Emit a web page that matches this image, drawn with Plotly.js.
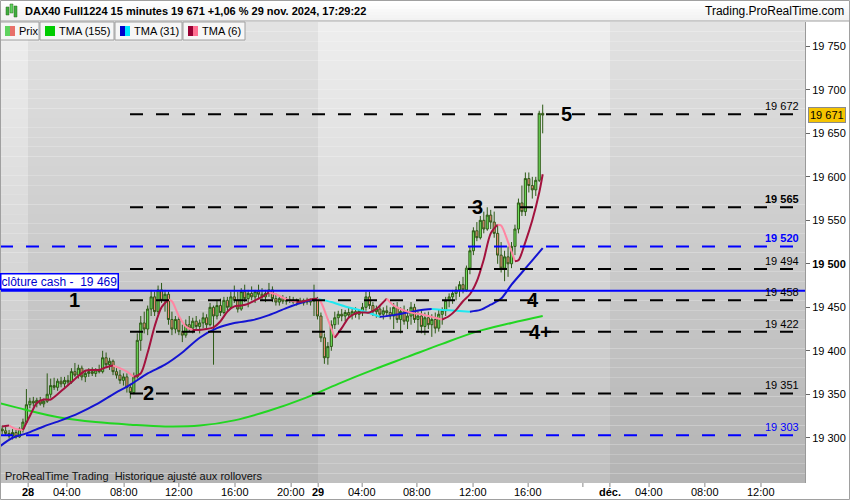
<!DOCTYPE html>
<html><head><meta charset="utf-8">
<script src="https://cdn.plot.ly/plotly-3.0.1.min.js"></script>
<style>html,body{margin:0;padding:0;background:#fff;}#chart{width:850px;height:500px;}</style>
</head><body><div id="chart"></div>
<script>
// ---------------- DATA ----------------
// 15-minute bars: 7 bars of 27 nov., 84 bars of 28 nov., 66 bars of 29 nov.
const firstBarIndex = -7;
const barOpen = [
19310,19308,19305,19302,19306,19301,19310,
19318,19338,19342,19340,19343,19339,19342,19350,19360,19358,19365,19362,19366,19364,19376,19372,19380,19370,19374,19376,
19374,19378,19376,19392,19384,19388,19376,19372,19366,19370,19358,19352,19370,19412,19432,19425,19448,19462,19445,19470,
19458,19465,19436,19425,19436,19422,19418,19430,19426,19434,19428,19432,19438,19430,19450,19440,19452,19444,19458,19450,
19462,19458,19448,19468,19460,19466,19462,19468,19465,19462,19466,19470,19460,19456,19460,19457,19459,19458,19456,19458,
19455,19458,19456,19457,
19458,19440,19415,19392,19405,19430,19438,19442,19440,19444,19441,19445,19442,19446,19450,19462,19452,19445,19448,19442,
19446,19444,19440,19450,19436,19445,19434,19440,19450,19436,19440,19428,19438,19430,19436,19426,19442,19446,19458,19462,
19466,19470,19476,19470,19495,19515,19538,19530,19550,19540,19556,19548,19535,19510,19495,19508,19500,19520,19540,19570,
19560,19598,19590,19585,19596,19673];
const barHigh = [
19314,19313,19309,19310,19309,19312,19322,
19356,19346,19347,19346,19347,19345,19374,19368,19369,19368,19370,19370,19372,19380,19386,19384,19383,19378,19380,19381,
19380,19384,19400,19398,19392,19390,19380,19378,19374,19374,19362,19375,19420,19440,19445,19452,19470,19468,19475,19478,
19470,19468,19445,19440,19440,19430,19436,19440,19438,19440,19436,19444,19442,19455,19452,19458,19460,19462,19462,19468,
19475,19468,19472,19476,19470,19474,19470,19476,19472,19470,19478,19474,19466,19462,19464,19462,19463,19462,19460,19461,
19460,19461,19460,19476,
19462,19444,19420,19410,19435,19445,19446,19448,19447,19450,19448,19450,19448,19455,19468,19468,19456,19452,19452,19450,
19452,19450,19455,19456,19450,19452,19448,19456,19454,19446,19448,19444,19445,19442,19444,19448,19450,19462,19466,19470,
19474,19480,19485,19498,19520,19542,19548,19555,19560,19565,19562,19560,19545,19525,19515,19520,19525,19545,19575,19590,
19605,19605,19600,19600,19676,19683];
const barLow = [
19304,19303,19299,19298,19299,19300,19306,
19316,19334,19336,19335,19337,19335,19340,19346,19355,19354,19358,19358,19360,19362,19370,19368,19366,19364,19370,19371,
19370,19374,19374,19380,19378,19372,19368,19362,19360,19352,19345,19350,19368,19400,19420,19418,19440,19440,19442,19455,
19445,19430,19418,19420,19418,19410,19415,19422,19420,19425,19420,19426,19425,19428,19384,19436,19440,19442,19446,19448,
19455,19444,19446,19456,19450,19458,19455,19460,19458,19456,19462,19456,19452,19452,19454,19453,19455,19454,19452,19454,
19452,19453,19452,19440,
19436,19410,19385,19384,19400,19425,19430,19434,19434,19438,19436,19438,19436,19440,19446,19448,19440,19438,19438,19436,
19440,19436,19425,19432,19420,19430,19425,19430,19432,19422,19420,19418,19425,19416,19420,19422,19430,19440,19450,19454,
19458,19462,19466,19468,19488,19510,19526,19528,19535,19538,19540,19530,19500,19490,19480,19485,19495,19510,19535,19555,
19555,19582,19575,19578,19594,19650];
const barClose = [
19308,19305,19302,19306,19301,19310,19318,
19338,19342,19340,19343,19339,19342,19350,19360,19358,19365,19362,19366,19364,19376,19372,19380,19370,19374,19376,19374,
19378,19376,19392,19384,19388,19376,19372,19366,19370,19358,19352,19370,19412,19432,19425,19448,19462,19445,19470,19458,
19465,19436,19425,19436,19422,19418,19430,19426,19434,19428,19432,19438,19430,19450,19440,19452,19444,19458,19450,19462,
19458,19448,19468,19460,19466,19462,19468,19465,19462,19466,19470,19460,19456,19460,19457,19459,19458,19456,19458,19455,
19458,19456,19457,19458,
19440,19415,19392,19405,19430,19438,19442,19440,19444,19441,19445,19442,19446,19450,19462,19452,19445,19448,19442,19446,
19444,19440,19450,19436,19445,19434,19440,19450,19436,19440,19428,19438,19430,19436,19426,19442,19446,19458,19462,19466,
19470,19476,19470,19495,19515,19538,19530,19550,19540,19556,19548,19535,19510,19495,19508,19500,19520,19540,19570,19560,
19598,19590,19585,19596,19673,19671];

// TMA (155) read at bar positions
const tma155Idx = [-8,0,10,20,30,40,50,60,70,80,90,100,110,120,130,140,149];
const tma155Val = [19340,19332,19323,19318,19315,19313,19314,19320,19331,19345,19362,19378,19393,19408,19422,19432,19440];
// TMA (31)
const tma31Idx = [-8,-4,0,5,10,15,20,25,30,35,40,45,50,55,60,65,70,75,80,84,88,92,96,100,102,106,110,114,117,120,124,128,131,134,137,140,143,146,149];
const tma31Val = [19289,19300,19305,19313,19320,19328,19338,19350,19361,19374,19384,19398,19415,19426,19432,19435,19441,19449,19456,19460,19456,19451,19447,19442,19439,19441,19444,19447,19448,19447,19446,19445,19447,19453,19460,19476,19490,19504,19518];
// TMA (6)
const tma6Idx = [-7,-5,-3,-1,1,3,5,7,9,11,13,15,17,19,21,23,25,27,29,31,33,35,37,39,41,42,44,46,48,50,52,54,56,58,60,62,64,66,68,70,72,74,76,78,80,82,84,85,87,89,91,93,95,97,99,101,103,104,106,108,110,112,114,116,118,120,122,124,126,128,130,132,134,136,137,139,141,142,144,146,148,149];
const tma6Val = [19313,19314,19310,19309,19325,19340,19344,19344,19350,19357,19364,19371,19377,19378,19378,19381,19383,19380,19376,19370,19374,19398,19428,19450,19459,19457,19440,19428,19424,19424,19425,19427,19434,19445,19451,19452,19454,19458,19462,19467,19465,19461,19458,19456,19457,19459,19460,19456,19436,19415,19426,19438,19443,19444,19444,19448,19456,19460,19452,19448,19445,19443,19442,19440,19438,19436,19440,19447,19457,19465,19480,19505,19535,19545,19544,19525,19503,19504,19525,19550,19582,19603];

// price levels
const blackLevels = [19672, 19565, 19494, 19458, 19422, 19351];
const blackLevelBold = [false, true, false, false, false, false];
const blueDashLevels = [19520, 19303];
const blueDashBold = [true, false];
const cashClose = 19469;
const lastPrice = 19671;
const waveLabels = ["1", "2", "3", "4", "4+", "5"];
const waveLevels = [19458, 19351, 19565, 19458, 19422, 19672];
const wavePx = [74, 148, 477, 533, 540, 566];

// axis ticks
const yTicks = [19300,19350,19400,19450,19500,19550,19600,19650,19700,19750];
const xTickIdx = [0.5, 11.7, 28.2, 44, 60.2, 76.4, 84.2, 96.9, 112.7, 128.9, 144.8, 160.6, 168.4, 179.7, 195.8, 212];
const xTickText = ["<b>28</b>","04:00","08:00","12:00","16:00","20:00","<b>29</b>","04:00","08:00","12:00","16:00","","<b>déc.</b>","04:00","08:00","12:00"];

// ---------------- LAYOUT HELPERS ----------------
const W = 850, H = 500, ML = 0, MR = 45, MT = 22, MB = 17;
const PW = W - ML - MR, PH = H - MT - MB;
const X = px => (px - ML) / PW;
const Y = py => (H - MB - py) / PH;
const FONT = "Liberation Sans, Arial, sans-serif";
const fmt = v => String(v).replace(/(\d{2})(\d{3})$/, "$1 $2");

const barIdx = barClose.map((_, i) => i + firstBarIndex);

const shapes = [];
const annotations = [];

// background day bands with vertical gradient
const bands = [[0, 28, 0], [28, 318, 1], [318, 610, 0], [610, 805, 1]];
const NSTRIP = 48;
bands.forEach(([a, b, dark]) => {
  for (let k = 0; k < NSTRIP; k++) {
    const y0 = MT + k * PH / NSTRIP, y1 = MT + (k + 1) * PH / NSTRIP;
    const t = (k + 0.5) / NSTRIP;
    const g = Math.round(238 - 46 * t - (dark ? 12 : 0));
    shapes.push({type: "rect", xref: "paper", yref: "paper", layer: "below",
      x0: X(a), x1: X(b), y0: Y(y1), y1: Y(y0), line: {width: 0},
      fillcolor: `rgb(${g},${g},${g})`});
  }
});

// header bar
for (let k = 0; k < 7; k++) {
  const g = Math.round(255 - k * 2.2);
  shapes.push({type: "rect", xref: "paper", yref: "paper", x0: X(0), x1: X(850),
    y0: Y(k * 3 + 3), y1: Y(k * 3), line: {width: 0}, fillcolor: `rgb(${g},${g},${g})`});
}
shapes.push({type: "line", xref: "paper", yref: "paper", x0: X(0), x1: X(850), y0: Y(21), y1: Y(21), line: {color: "#a0a0a0", width: 1}});
// header icon
[[6, 9, 7, 15, "#3fae3f"], [10, 13, 4, 13, "#5fd35f"], [14, 17, 6, 17, "#3fae3f"]].forEach(([a, b, c, d, col]) => {
  shapes.push({type: "rect", xref: "paper", yref: "paper", x0: X(a), x1: X(b), y0: Y(d), y1: Y(c), line: {color: "#2e6b1e", width: 0.5}, fillcolor: col});
});
annotations.push({xref: "paper", yref: "paper", x: X(23), y: Y(11), xanchor: "left", yanchor: "middle", showarrow: false,
  text: "<b>DAX40 Full1224 15 minutes 19 671 +1,06 % 29 nov. 2024, 17:29:22</b>", font: {family: FONT, size: 11, color: "#000"}});
annotations.push({xref: "paper", yref: "paper", x: X(846), y: Y(11), xanchor: "right", yanchor: "middle", showarrow: false,
  text: "Trading.ProRealTime.com", font: {family: FONT, size: 12, color: "#000"}});

// legend boxes
const legendBoxes = [[0, 39, "Prix", ["#5fd35f", "#e8706a"]], [40, 114, "TMA (155)", ["#00cc00", "#00cc00"]],
  [115, 182, "TMA (31)", ["#0000cc", "#00e5ff"]], [183, 245, "TMA (6)", ["#990033", "#ff6f91"]]];
legendBoxes.forEach(([a, b, txt, cols]) => {
  shapes.push({type: "rect", xref: "paper", yref: "paper", x0: X(a), x1: X(b), y0: Y(40), y1: Y(22),
    line: {color: "#a0a0a0", width: 1}, fillcolor: "#f6f6f6"});
  shapes.push({type: "rect", xref: "paper", yref: "paper", x0: X(a + 5), x1: X(a + 10), y0: Y(36), y1: Y(26), line: {width: 0}, fillcolor: cols[0]});
  shapes.push({type: "rect", xref: "paper", yref: "paper", x0: X(a + 10), x1: X(a + 15), y0: Y(36), y1: Y(26), line: {width: 0}, fillcolor: cols[1]});
  annotations.push({xref: "paper", yref: "paper", x: X(a + 17), y: Y(31), xanchor: "left", yanchor: "middle", showarrow: false,
    text: txt, font: {family: FONT, size: 11, color: "#000"}});
});

// horizontal levels
blackLevels.forEach((v, i) => {
  shapes.push({type: "line", xref: "paper", yref: "y", x0: X(130), x1: X(805), y0: v, y1: v,
    line: {color: "#000", width: 2, dash: "13px,13px"}});
  annotations.push({xref: "paper", yref: "y", x: X(801), y: v, yshift: 8, xanchor: "right", yanchor: "middle", showarrow: false,
    text: blackLevelBold[i] ? "<b>" + fmt(v) + "</b>" : fmt(v), font: {family: FONT, size: 11, color: "#000"}});
});
blueDashLevels.forEach((v, i) => {
  shapes.push({type: "line", xref: "paper", yref: "y", x0: X(0), x1: X(805), y0: v, y1: v,
    line: {color: "#0000ff", width: 2, dash: "13px,13px"}});
  annotations.push({xref: "paper", yref: "y", x: X(801), y: v, yshift: 8, xanchor: "right", yanchor: "middle", showarrow: false,
    text: blueDashBold[i] ? "<b>" + fmt(v) + "</b>" : fmt(v), font: {family: FONT, size: 11, color: "#0000ff"}});
});
shapes.push({type: "line", xref: "paper", yref: "y", x0: X(0), x1: X(805), y0: cashClose, y1: cashClose, line: {color: "#0000ff", width: 2}});
annotations.push({xref: "paper", yref: "y", x: X(0), y: cashClose, yshift: 9, xanchor: "left", yanchor: "middle", showarrow: false,
  text: "clôture cash -  " + fmt(cashClose), bgcolor: "#fff", bordercolor: "#0000ff", borderwidth: 1.5, borderpad: 0,
  font: {family: FONT, size: 12, color: "#0000cc"}});

waveLabels.forEach((t, i) => {
  annotations.push({xref: "paper", yref: "y", x: X(wavePx[i]), y: waveLevels[i], xanchor: "center", yanchor: "middle", showarrow: false,
    text: "<b>" + t + "</b>", font: {family: FONT, size: 20, color: "#000"}});
});

// last price tag
annotations.push({xref: "paper", yref: "y", x: X(808), y: lastPrice, xanchor: "left", yanchor: "middle", showarrow: false,
  text: fmt(lastPrice), bgcolor: "#f5c400", bordercolor: "#8a8a8a", borderwidth: 1, borderpad: 1,
  font: {family: FONT, size: 11, color: "#000"}});

// footer text
annotations.push({xref: "paper", yref: "paper", x: X(3), y: Y(476), xanchor: "left", yanchor: "middle", showarrow: false,
  text: "ProRealTime Trading  Historique ajusté aux rollovers", font: {family: FONT, size: 11, color: "#111"}});

// x tick marks (drawn as short lines below the plot) and tick labels
xTickIdx.forEach((v, i) => {
  shapes.push({type: "line", xref: "x", yref: "paper", x0: v, x1: v, y0: Y(483), y1: Y(487), line: {color: "#888", width: 1}});
  if (xTickText[i]) annotations.push({xref: "x", yref: "paper", x: v, y: Y(492), xanchor: "center", yanchor: "middle", showarrow: false,
    text: xTickText[i], font: {family: FONT, size: 11, color: "#000"}});
});

// outer border
shapes.push({type: "rect", xref: "paper", yref: "paper", x0: X(0.5), x1: X(849.5), y0: Y(499.5), y1: Y(0.5), line: {color: "#a0a0a0", width: 1}});

// ---------------- TRACES ----------------
function slopeTraces(xs, ys, upCol, downCol, width) {
  const out = [];
  let start = 0;
  let cur = ys[1] >= ys[0];
  const push = (s, e, up) => out.push({type: "scatter", mode: "lines", x: xs.slice(s, e + 1), y: ys.slice(s, e + 1),
    line: {color: up ? upCol : downCol, width: width, shape: "spline", smoothing: 0.8}, hoverinfo: "skip"});
  for (let i = 1; i < xs.length - 1; i++) {
    const d = ys[i + 1] >= ys[i];
    if (d !== cur) { push(start, i, cur); start = i; cur = d; }
  }
  push(start, xs.length - 1, cur);
  return out;
}

const traces = [];
traces.push({type: "scatter", mode: "lines", x: tma155Idx, y: tma155Val,
  line: {color: "#22d622", width: 2, shape: "spline", smoothing: 1}, hoverinfo: "skip"});
traces.push(...slopeTraces(tma31Idx, tma31Val, "#1414d2", "#20e8f0", 2));
traces.push({type: "candlestick", x: barIdx, open: barOpen, high: barHigh, low: barLow, close: barClose,
  increasing: {line: {color: "#2d5a16", width: 1}, fillcolor: "#6fe05a"},
  decreasing: {line: {color: "#2d5a16", width: 1}, fillcolor: "#f08a78"},
  whiskerwidth: 0, hoverinfo: "skip"});
traces.push(...slopeTraces(tma6Idx, tma6Val, "#a3123e", "#ff86a2", 2));

const layout = {
  width: W, height: H,
  margin: {l: ML, r: MR, t: MT, b: MB, pad: 0},
  paper_bgcolor: "#ffffff", plot_bgcolor: "rgba(0,0,0,0)",
  showlegend: false,
  boxgap: 0.12,
  font: {family: FONT, size: 11, color: "#000"},
  xaxis: {range: [-7.62, 224.7], showgrid: false, zeroline: false, fixedrange: true,
    rangeslider: {visible: false}, showticklabels: false, ticks: "", showline: false},
  yaxis: {range: [19248, 19778], side: "right", showgrid: false, zeroline: false, fixedrange: true,
    tickmode: "array", tickvals: yTicks,
    ticktext: yTicks.map(v => v === 19500 ? "<b>" + fmt(v) + "</b>" : fmt(v)),
    ticks: "outside", ticklen: 4, tickcolor: "#666", tickfont: {family: FONT, size: 11, color: "#000"},
    showline: true, linecolor: "#999", linewidth: 1},
  shapes: shapes,
  annotations: annotations
};

Plotly.newPlot("chart", traces, layout, {displayModeBar: false, staticPlot: true});
</script>
</body></html>
